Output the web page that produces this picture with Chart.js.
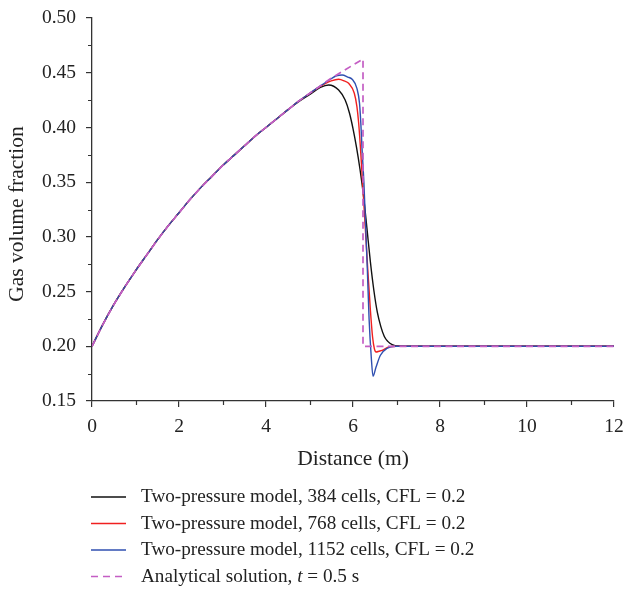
<!DOCTYPE html>
<html>
<head>
<meta charset="utf-8">
<script src="https://cdn.jsdelivr.net/npm/chart.js@4.4.0/dist/chart.umd.min.js"></script>
<style>
  html, body { margin: 0; padding: 0; background: #fff; }
  #wrap { width: 624px; height: 589px; }
</style>
</head>
<body>
<div id="wrap"><canvas id="c" width="624" height="589"></canvas></div>
<script>
// ---- Data ----
const xTicks = [0, 2, 4, 6, 8, 10, 12];
const yTicks = [0.15, 0.20, 0.25, 0.30, 0.35, 0.40, 0.45, 0.50];

const xTitle = "Distance (m)";
const yTitle = "Gas volume fraction";
const seriesNames = [
  "Two-pressure model, 384 cells, CFL = 0.2",
  "Two-pressure model, 768 cells, CFL = 0.2",
  "Two-pressure model, 1152 cells, CFL = 0.2",
  "Analytical solution, t = 0.5 s"
];

// 384 cells
const x384 = [0,0.25,0.5,0.75,1,1.25,1.5,1.75,2,2.25,2.5,2.75,3,3.25,3.5,3.75,4,4.25,4.5,4.75,5,5.25,5.44,5.67,5.82,5.92,6.0,6.08,6.16,6.24,6.32,6.4,6.48,6.56,6.64,6.72,6.8,6.9,7.05,8,9,10,11,12];
const y384 = [0.200,0.220,0.238,0.254,0.269,0.283,0.297,0.310,0.322,0.334,0.345,0.355,0.365,0.374,0.383,0.392,0.400,0.408,0.416,0.4235,0.430,0.4365,0.4388,0.4342,0.425,0.413,0.399,0.382,0.362,0.338,0.308,0.277,0.251,0.231,0.218,0.209,0.2045,0.2015,0.2003,0.200,0.200,0.200,0.200,0.200];

// 768 cells
const x768 = [0,0.25,0.5,0.75,1,1.25,1.5,1.75,2,2.25,2.5,2.75,3,3.25,3.5,3.75,4,4.25,4.5,4.75,5,5.25,5.5,5.67,5.8,5.9,6.03,6.09,6.13,6.17,6.22,6.28,6.34,6.4,6.45,6.49,6.53,6.6,6.67,6.82,7.0,8,9,10,11,12];
const y768 = [0.200,0.220,0.238,0.254,0.269,0.283,0.297,0.310,0.322,0.334,0.345,0.355,0.365,0.374,0.383,0.392,0.400,0.408,0.416,0.424,0.431,0.4375,0.4425,0.444,0.4425,0.4403,0.4312,0.419,0.404,0.382,0.350,0.310,0.270,0.233,0.2085,0.198,0.1948,0.1955,0.1963,0.1994,0.200,0.200,0.200,0.200,0.200,0.200];

// 1152 cells
const x1152 = [0,0.25,0.5,0.75,1,1.25,1.5,1.75,2,2.25,2.5,2.75,3,3.25,3.5,3.75,4,4.25,4.5,4.75,5,5.25,5.5,5.62,5.75,5.88,5.98,6.09,6.15,6.18,6.21,6.25,6.29,6.33,6.37,6.42,6.46,6.53,6.63,6.78,6.97,8,9,10,11,12];
const y1152 = [0.200,0.220,0.238,0.254,0.269,0.283,0.297,0.310,0.322,0.334,0.345,0.355,0.365,0.374,0.383,0.392,0.400,0.408,0.416,0.424,0.431,0.438,0.4445,0.4472,0.4479,0.446,0.444,0.4357,0.422,0.4037,0.379,0.350,0.310,0.270,0.225,0.190,0.1726,0.181,0.1918,0.198,0.200,0.200,0.200,0.200,0.200,0.200];

// Analytical solution
const xAna = [0,0.25,0.5,0.75,1,1.25,1.5,1.75,2,2.25,2.5,2.75,3,3.25,3.5,3.75,4,4.25,4.5,4.75,5,5.25,5.5,5.75,6,6.23,6.23,12];
const yAna = [0.200,0.220,0.238,0.254,0.269,0.283,0.297,0.310,0.322,0.334,0.345,0.355,0.365,0.374,0.383,0.392,0.400,0.408,0.416,0.424,0.431,0.438,0.445,0.451,0.457,0.4625,0.200,0.200];

const colors = ["#111111", "#f02020", "#2f4fb0", "#c45ec4"];
const FONT = "'Liberation Serif', 'Times New Roman', serif";
const TICK_SIZE = 19.5, TITLE_SIZE = 21.5, LEGEND_SIZE = 19.2;

function pts(xs, ys) { return xs.map((x, i) => ({ x: x, y: ys[i] })); }

const minorTicks = {
  id: 'minorTicks',
  afterDraw(chart) {
    const ctx = chart.ctx;
    const xs = chart.scales.x, ys = chart.scales.y;
    const a = chart.chartArea;
    ctx.save();
    ctx.strokeStyle = '#333';
    ctx.lineWidth = 1.2;
    ctx.beginPath();
    for (let i = 0; i < xTicks.length - 1; i++) {
      const v = (xTicks[i] + xTicks[i + 1]) / 2;
      const px = Math.round(xs.getPixelForValue(v)) + 0.5;
      ctx.moveTo(px, a.bottom); ctx.lineTo(px, a.bottom + 4);
    }
    for (let i = 0; i < yTicks.length - 1; i++) {
      const v = (yTicks[i] + yTicks[i + 1]) / 2;
      const py = Math.round(ys.getPixelForValue(v)) + 0.5;
      ctx.moveTo(a.left, py); ctx.lineTo(a.left - 4, py);
    }
    ctx.stroke();
    // y-axis title
    ctx.translate(17, 214);
    ctx.rotate(-Math.PI / 2);
    ctx.font = TITLE_SIZE + "px " + FONT;
    ctx.fillStyle = '#222';
    ctx.textAlign = 'center';
    ctx.textBaseline = 'middle';
    ctx.fillText(yTitle, 0, 0);
    ctx.restore();
  }
};

const customLegend = {
  id: 'customLegend',
  afterDraw(chart) {
    const ctx = chart.ctx;
    ctx.save();
    const rowY = [497, 523.5, 550, 576.5];
    const f = LEGEND_SIZE + "px " + FONT;
    ctx.font = f;
    ctx.textBaseline = 'middle';
    ctx.fillStyle = '#222';
    for (let i = 0; i < seriesNames.length; i++) {
      const y = rowY[i];
      ctx.beginPath();
      ctx.strokeStyle = colors[i];
      ctx.lineWidth = i === 3 ? 1.6 : 1.4;
      ctx.setLineDash(i === 3 ? [7, 5] : []);
      ctx.moveTo(91, y); ctx.lineTo(126, y);
      ctx.stroke();
      ctx.setLineDash([]);
      if (i < 3) {
        ctx.fillText(seriesNames[i], 141, y);
      } else {
        let x = 141;
        const p1 = "Analytical solution, ";
        ctx.fillText(p1, x, y); x += ctx.measureText(p1).width;
        ctx.font = "italic " + f;
        ctx.fillText("t", x, y); x += ctx.measureText("t").width;
        ctx.font = f;
        ctx.fillText(" = 0.5 s", x, y);
      }
    }
    ctx.restore();
  }
};

new Chart(document.getElementById('c'), {
  type: 'line',
  data: {
    datasets: [
      { label: seriesNames[0], data: pts(x384, y384), borderColor: colors[0], borderWidth: 1.4, order: 3, cubicInterpolationMode: 'monotone' },
      { label: seriesNames[1], data: pts(x768, y768), borderColor: colors[1], borderWidth: 1.4, order: 2, cubicInterpolationMode: 'monotone' },
      { label: seriesNames[2], data: pts(x1152, y1152), borderColor: colors[2], borderWidth: 1.4, order: 1, cubicInterpolationMode: 'monotone' },
      { label: seriesNames[3], data: pts(xAna, yAna), borderColor: colors[3], borderWidth: 1.7, borderDash: [7, 4.5], order: 0, tension: 0 }
    ]
  },
  options: {
    responsive: false,
    animation: false,
    elements: { point: { radius: 0 }, line: { fill: false } },
    layout: { padding: { top: 18, right: 10, bottom: 113, left: 0 } },
    plugins: { legend: { display: false }, tooltip: { enabled: false } },
    scales: {
      x: {
        type: 'linear', min: 0, max: 12,
        afterBuildTicks(s) { s.ticks = xTicks.map(v => ({ value: v })); },
        afterFit(s) { s.height = 75; s.paddingLeft = 0; s.paddingRight = 0; },
        ticks: { font: { family: FONT, size: TICK_SIZE }, color: '#222', padding: 8, maxRotation: 0, callback: v => String(v) },
        grid: { display: true, drawOnChartArea: false, drawTicks: true, tickLength: 6, color: '#333', lineWidth: 1.2 },
        border: { display: true, color: '#333', width: 1.3 },
        title: { display: true, text: xTitle, font: { family: FONT, size: TITLE_SIZE }, color: '#222', padding: { top: 4, bottom: 4 } }
      },
      y: {
        type: 'linear', min: 0.15, max: 0.5,
        afterBuildTicks(s) { s.ticks = yTicks.map(v => ({ value: v })); },
        afterFit(s) { s.width = 92; s.paddingTop = 0; s.paddingBottom = 0; },
        ticks: { font: { family: FONT, size: TICK_SIZE }, color: '#222', padding: 10, callback: v => Number(v).toFixed(2) },
        grid: { display: true, drawOnChartArea: false, drawTicks: true, tickLength: 6, color: '#333', lineWidth: 1.2 },
        border: { display: true, color: '#333', width: 1.3 },
        title: { display: false }
      }
    }
  },
  plugins: [minorTicks, customLegend]
});
</script>
</body>
</html>
